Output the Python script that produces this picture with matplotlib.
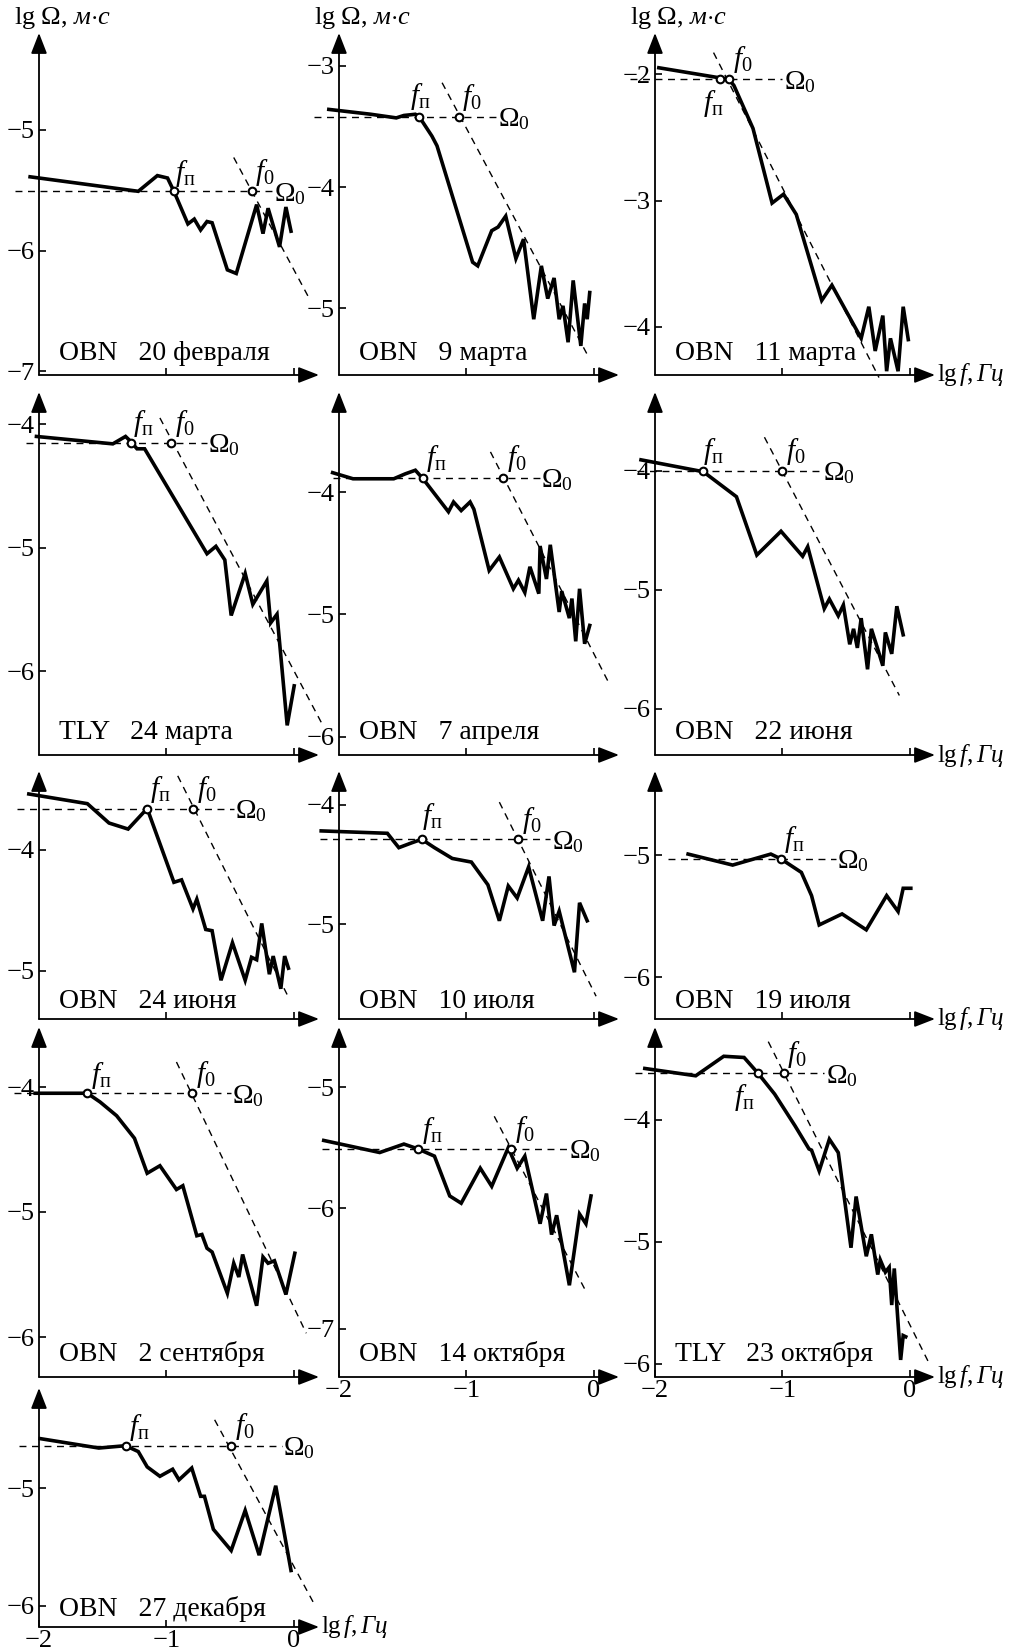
import matplotlib
matplotlib.use('Agg')
import matplotlib.pyplot as plt

plt.rcParams['font.family'] = ['Liberation Serif', 'DejaVu Serif']
plt.rcParams['mathtext.fontset'] = 'custom'
plt.rcParams['mathtext.rm'] = 'Liberation Serif'
plt.rcParams['mathtext.it'] = 'Liberation Serif:italic'
plt.rcParams['mathtext.bf'] = 'Liberation Serif:bold'

# station / date of each spectrum, in reading order
stations = ['OBN', 'OBN', 'OBN', 'TLY', 'OBN', 'OBN', 'OBN',
            'OBN', 'OBN', 'OBN', 'OBN', 'TLY', 'OBN']
dates = ['20 февраля', '9 марта', '11 марта', '24 марта', '7 апреля',
         '22 июня', '24 июня', '10 июля', '19 июля', '2 сентября',
         '14 октября', '23 октября', '27 декабря']

# spectra: lg f (Hz) and lg Omega (m*s)
x_feb20 = [-2.07, -1.22, -1.07, -0.99, -0.94, -0.83, -0.78, -0.73, -0.68, -0.64,
           -0.52, -0.45, -0.29, -0.24, -0.20, -0.11, -0.06, -0.02]
y_feb20 = [-5.39, -5.51, -5.38, -5.40, -5.51, -5.78, -5.74, -5.83, -5.76, -5.77,
           -6.16, -6.19, -5.62, -5.86, -5.65, -5.97, -5.64, -5.84]

x_mar09 = [-2.08, -1.75, -1.55, -1.49, -1.40, -1.37, -1.27, -1.23, -0.95, -0.91,
           -0.80, -0.75, -0.69, -0.61, -0.55, -0.47, -0.41, -0.36, -0.31, -0.27,
           -0.24, -0.20, -0.16, -0.10, -0.07, -0.05, -0.03]
y_mar09 = [-3.36, -3.40, -3.43, -3.41, -3.40, -3.42, -3.58, -3.66, -4.62, -4.65,
           -4.36, -4.33, -4.24, -4.59, -4.43, -5.09, -4.65, -4.92, -4.75, -5.09,
           -4.98, -5.28, -4.77, -5.31, -4.96, -5.09, -4.87]

x_mar11 = [-1.97, -1.49, -1.42, -1.38, -1.23, -1.08, -0.99, -0.89, -0.69, -0.61,
           -0.38, -0.32, -0.27, -0.21, -0.18, -0.15, -0.09, -0.05, -0.01]
y_mar11 = [-1.95, -2.03, -2.04, -2.09, -2.43, -3.02, -2.95, -3.11, -3.79, -3.67,
           -4.09, -3.84, -4.19, -3.91, -4.35, -4.09, -4.35, -3.84, -4.10]

x_mar24 = [-2.02, -1.42, -1.32, -1.28, -1.23, -1.17, -0.68, -0.61, -0.54, -0.49,
           -0.38, -0.32, -0.21, -0.18, -0.13, -0.05, 0.005]
y_mar24 = [-4.10, -4.16, -4.10, -4.14, -4.20, -4.20, -5.05, -4.99, -5.10, -5.55,
           -5.21, -5.46, -5.27, -5.61, -5.54, -6.44, -6.12]

x_apr07 = [-2.05, -1.89, -1.57, -1.48, -1.40, -1.34, -1.14, -1.10, -1.04, -0.97,
           -0.94, -0.82, -0.74, -0.63, -0.59, -0.54, -0.50, -0.43, -0.42, -0.37,
           -0.34, -0.27, -0.25, -0.19, -0.17, -0.14, -0.11, -0.07, -0.03]
y_apr07 = [-3.84, -3.89, -3.89, -3.85, -3.82, -3.89, -4.16, -4.08, -4.15, -4.08,
           -4.14, -4.64, -4.53, -4.79, -4.72, -4.82, -4.61, -4.83, -4.44, -4.71,
           -4.43, -4.98, -4.81, -5.03, -4.87, -5.22, -4.79, -5.24, -5.09]

x_jun22 = [-2.11, -1.62, -1.36, -1.20, -1.01, -0.84, -0.80, -0.67, -0.63, -0.56,
           -0.52, -0.47, -0.44, -0.41, -0.38, -0.33, -0.30, -0.25, -0.21, -0.19,
           -0.14, -0.10, -0.05]
y_jun22 = [-3.91, -4.01, -4.22, -4.71, -4.51, -4.72, -4.64, -5.16, -5.08, -5.22,
           -5.13, -5.46, -5.33, -5.49, -5.24, -5.67, -5.33, -5.50, -5.64, -5.36,
           -5.54, -5.14, -5.38]

x_jun24 = [-2.08, -1.62, -1.45, -1.30, -1.15, -0.94, -0.88, -0.79, -0.76, -0.69,
           -0.64, -0.57, -0.48, -0.38, -0.33, -0.29, -0.25, -0.19, -0.16, -0.10,
           -0.07, -0.04]
y_jun24 = [-3.54, -3.62, -3.78, -3.83, -3.66, -4.27, -4.25, -4.49, -4.41, -4.66,
           -4.67, -5.08, -4.77, -5.08, -4.89, -4.91, -4.61, -5.03, -4.88, -5.15,
           -4.88, -4.98]

x_jul10 = [-2.14, -1.62, -1.53, -1.43, -1.35, -1.25, -1.11, -0.96, -0.83, -0.74,
           -0.67, -0.60, -0.51, -0.40, -0.35, -0.31, -0.27, -0.15, -0.11, -0.05]
y_jul10 = [-4.22, -4.24, -4.36, -4.32, -4.29, -4.36, -4.45, -4.48, -4.67, -4.97,
           -4.68, -4.78, -4.52, -4.97, -4.60, -5.01, -4.89, -5.40, -4.82, -4.97]

x_jul19 = [-1.74, -1.39, -1.09, -1.01, -0.85, -0.77, -0.71, -0.53, -0.34, -0.18,
           -0.09, -0.05, 0.01]
y_jul19 = [-4.99, -5.08, -4.99, -5.03, -5.14, -5.33, -5.57, -5.48, -5.61, -5.33,
           -5.46, -5.27, -5.27]

x_sep02 = [-2.03, -1.62, -1.52, -1.39, -1.25, -1.15, -1.05, -0.92, -0.87, -0.76,
           -0.72, -0.68, -0.64, -0.52, -0.47, -0.43, -0.40, -0.29, -0.24, -0.20,
           -0.15, -0.06, 0.01]
y_sep02 = [-4.05, -4.05, -4.12, -4.23, -4.41, -4.69, -4.63, -4.82, -4.79, -5.19,
           -5.18, -5.29, -5.32, -5.65, -5.41, -5.52, -5.34, -5.75, -5.36, -5.41,
           -5.39, -5.66, -5.33]

x_oct14 = [-2.12, -1.68, -1.49, -1.38, -1.25, -1.13, -1.04, -0.89, -0.80, -0.67,
           -0.60, -0.54, -0.42, -0.37, -0.33, -0.29, -0.19, -0.11, -0.06, -0.02]
y_oct14 = [-5.44, -5.54, -5.47, -5.51, -5.57, -5.90, -5.96, -5.67, -5.82, -5.50,
           -5.67, -5.57, -6.13, -5.88, -6.22, -6.06, -6.64, -6.05, -6.13, -5.90]

x_oct23 = [-2.08, -1.68, -1.46, -1.30, -1.19, -1.06, -0.90, -0.79, -0.77, -0.71,
           -0.63, -0.56, -0.46, -0.42, -0.34, -0.30, -0.25, -0.23, -0.19, -0.16,
           -0.14, -0.12, -0.07, -0.05, -0.03]
y_oct23 = [-3.58, -3.64, -3.48, -3.49, -3.62, -3.79, -4.05, -4.24, -4.25, -4.42,
           -4.16, -4.27, -5.05, -4.63, -5.12, -4.94, -5.27, -5.15, -5.25, -5.21,
           -5.52, -5.22, -5.97, -5.77, -5.78]

x_dec27 = [-1.99, -1.53, -1.32, -1.22, -1.15, -1.05, -0.95, -0.90, -0.80, -0.73,
           -0.70, -0.63, -0.49, -0.38, -0.27, -0.14, -0.02]
y_dec27 = [-4.58, -4.66, -4.64, -4.69, -4.82, -4.90, -4.84, -4.93, -4.83, -5.07,
           -5.07, -5.35, -5.53, -5.19, -5.57, -4.98, -5.70]

# plateau level, plateau end f_p and corner frequency f_0 (lg values)
omega0 = [-5.51, -3.42, -2.04, -4.15, -3.88, -4.00, -3.66, -4.29, -5.03, -4.05,
          -5.51, -3.62, -4.64]
f_p = [-0.94, -1.37, -1.49, -1.28, -1.34, -1.62, -1.15, -1.35, -1.01, -1.62,
       -1.38, -1.19, -1.32]
f_0 = [-0.33, -1.06, -1.42, -0.96, -0.71, -1.00, -0.79, -0.59, None, -0.80,
       -0.65, -0.99, -0.49]

# extent of dashed plateau line
omega_x0 = [-2.19, -2.20, -2.20, -2.10, -2.05, -2.14, -2.17, -2.15, -1.90, -2.20,
            -2.13, -2.16, -2.16]
omega_x1 = [-0.16, -0.76, -1.00, -0.68, -0.42, -0.69, -0.47, -0.34, -0.58, -0.49,
            -0.20, -0.67, -0.09]

# high-frequency asymptote end points
asym_x = [(-0.47, 0.12), (-1.19, -0.05), (-1.54, -0.24), (-1.05, 0.22),
          (-0.81, 0.115), (-1.14, -0.08), (-0.91, -0.04), (-0.74, 0.02), None,
          (-0.92, 0.10), (-0.78, -0.06), (-1.11, 0.15), (-0.62, 0.16)]
asym_y = [(-5.23, -6.39), (-3.14, -5.38), (-1.83, -4.40), (-3.95, -6.42),
          (-3.67, -5.55), (-3.72, -5.89), (-3.39, -5.22), (-3.98, -5.60), None,
          (-3.80, -5.97), (-5.24, -6.69), (-3.36, -5.99), (-4.42, -5.98)]

y_ticks = [[-5, -6, -7], [-3, -4, -5], [-2, -3, -4], [-4, -5, -6], [-4, -5, -6],
           [-4, -5, -6], [-4, -5], [-4, -5], [-5, -6], [-4, -5, -6],
           [-5, -6, -7], [-4, -5, -6], [-5, -6]]
y_lims = [(-7.03, -4.20), (-5.55, -2.73), (-4.38, -1.675), (-6.68, -3.74),
          (-6.15, -3.18), (-6.39, -3.34), (-5.40, -3.35), (-5.79, -3.72),
          (-6.34, -4.31), (-6.32, -3.52), (-7.40, -4.50), (-6.11, -3.24),
          (-6.18, -4.15)]

spectra_x = [x_feb20, x_mar09, x_mar11, x_mar24, x_apr07, x_jun22, x_jun24,
             x_jul10, x_jul19, x_sep02, x_oct14, x_oct23, x_dec27]
spectra_y = [y_feb20, y_mar09, y_mar11, y_mar24, y_apr07, y_jun22, y_jun24,
             y_jul10, y_jul19, y_sep02, y_oct14, y_oct23, y_dec27]

# label placement for f_p: (dx, dy, va)
fp_offset = [(0.01, 0.02, 'bottom'), (-0.07, 0.04, 'bottom'), (-0.13, -0.07, 'top'),
             (0.02, 0.03, 'bottom'), (0.02, 0.03, 'bottom'), (0.0, 0.03, 'bottom'),
             (0.02, 0.03, 'bottom'), (0.0, 0.06, 'bottom'), (0.02, 0.03, 'bottom'),
             (0.03, 0.02, 'bottom'), (0.03, 0.02, 'bottom'), (-0.19, -0.07, 'top'),
             (0.03, 0.02, 'bottom')]

# layout in pixels of the 1012x1652 canvas
W, H = 1012, 1652
col_left = [39, 339, 655]
row_top = [33, 392, 771, 1027, 1388]
row_bot = [375, 755, 1019, 1377, 1627]
ax_w = 280

fig = plt.figure(figsize=(W / 100, H / 100), dpi=100)
dash = (0, (5, 4))

for i in range(13):
    r, c = divmod(i, 3)
    ax = fig.add_axes([col_left[c] / W, 1 - row_bot[r] / H, ax_w / W,
                       (row_bot[r] - row_top[r]) / H])
    ax.set_xlim(-2, 0.2)
    ax.set_ylim(*y_lims[i])
    for s in ax.spines.values():
        s.set_visible(False)
    ax.patch.set_alpha(0)

    # axes with arrows
    arrow = dict(arrowstyle='-|>,head_length=0.9,head_width=0.35', lw=1.3,
                 color='k', shrinkA=0, shrinkB=0, mutation_scale=14)
    ax.annotate('', xy=(1, 0), xytext=(0, 0), xycoords='axes fraction',
                arrowprops=arrow)
    ax.annotate('', xy=(0, 1), xytext=(0, 0), xycoords='axes fraction',
                arrowprops=arrow)

    ax.set_yticks(y_ticks[i])
    labelled = i >= 10
    ax.set_xticks([-2, -1, 0] if labelled else [-1, 0])
    ax.tick_params(direction='in', length=5, width=1.2, labelsize=19, pad=3)
    ax.tick_params(axis='x', labelbottom=labelled, pad=2)

    # plateau and asymptote
    om = omega0[i]
    ax.plot([omega_x0[i], omega_x1[i]], [om, om], color='k', lw=1.0,
            ls=dash, clip_on=False)
    ax.text(omega_x1[i] + 0.01, om - 0.02, r'$\Omega_0$', fontsize=20,
            va='center', ha='left')
    if asym_x[i] is not None:
        ax.plot(asym_x[i], asym_y[i], color='k', lw=1.0, ls=dash, clip_on=False)

    # spectrum
    ax.plot(spectra_x[i], spectra_y[i], color='k', lw=2.6,
            solid_joinstyle='miter', clip_on=False, zorder=3)

    # characteristic points
    dx, dy, va = fp_offset[i]
    ax.plot([f_p[i]], [om], 'o', ms=5.5, mfc='white', mec='k', mew=1.5,
            zorder=4, clip_on=False)
    ax.text(f_p[i] + dx, om + dy, r'$f_{\mathrm{п}}$', fontsize=21,
            ha='left', va=va)
    if f_0[i] is not None:
        ax.plot([f_0[i]], [om], 'o', ms=5.5, mfc='white', mec='k', mew=1.5,
                zorder=4, clip_on=False)
        ax.text(f_0[i] + 0.03, om + 0.03, r'$f_0$', fontsize=21,
                ha='left', va='bottom')

    ax.text(0.07, 0.045, f'{stations[i]}   {dates[i]}', transform=ax.transAxes,
            fontsize=20, va='baseline')

    if r == 0:
        ax.text(-0.09, 1.045, r'$\mathrm{lg}\ \Omega$, $\mathit{м{\cdot}с}$',
                transform=ax.transAxes, fontsize=19, ha='left', va='center')
    if (c == 2 and r < 4) or i == 12:
        ax.text(1.008, 0.0, r'$\mathrm{lg}\,f,\mathit{Гц}$',
                transform=ax.transAxes, fontsize=18, ha='left', va='center')

fig.savefig('out.png', dpi=100)
